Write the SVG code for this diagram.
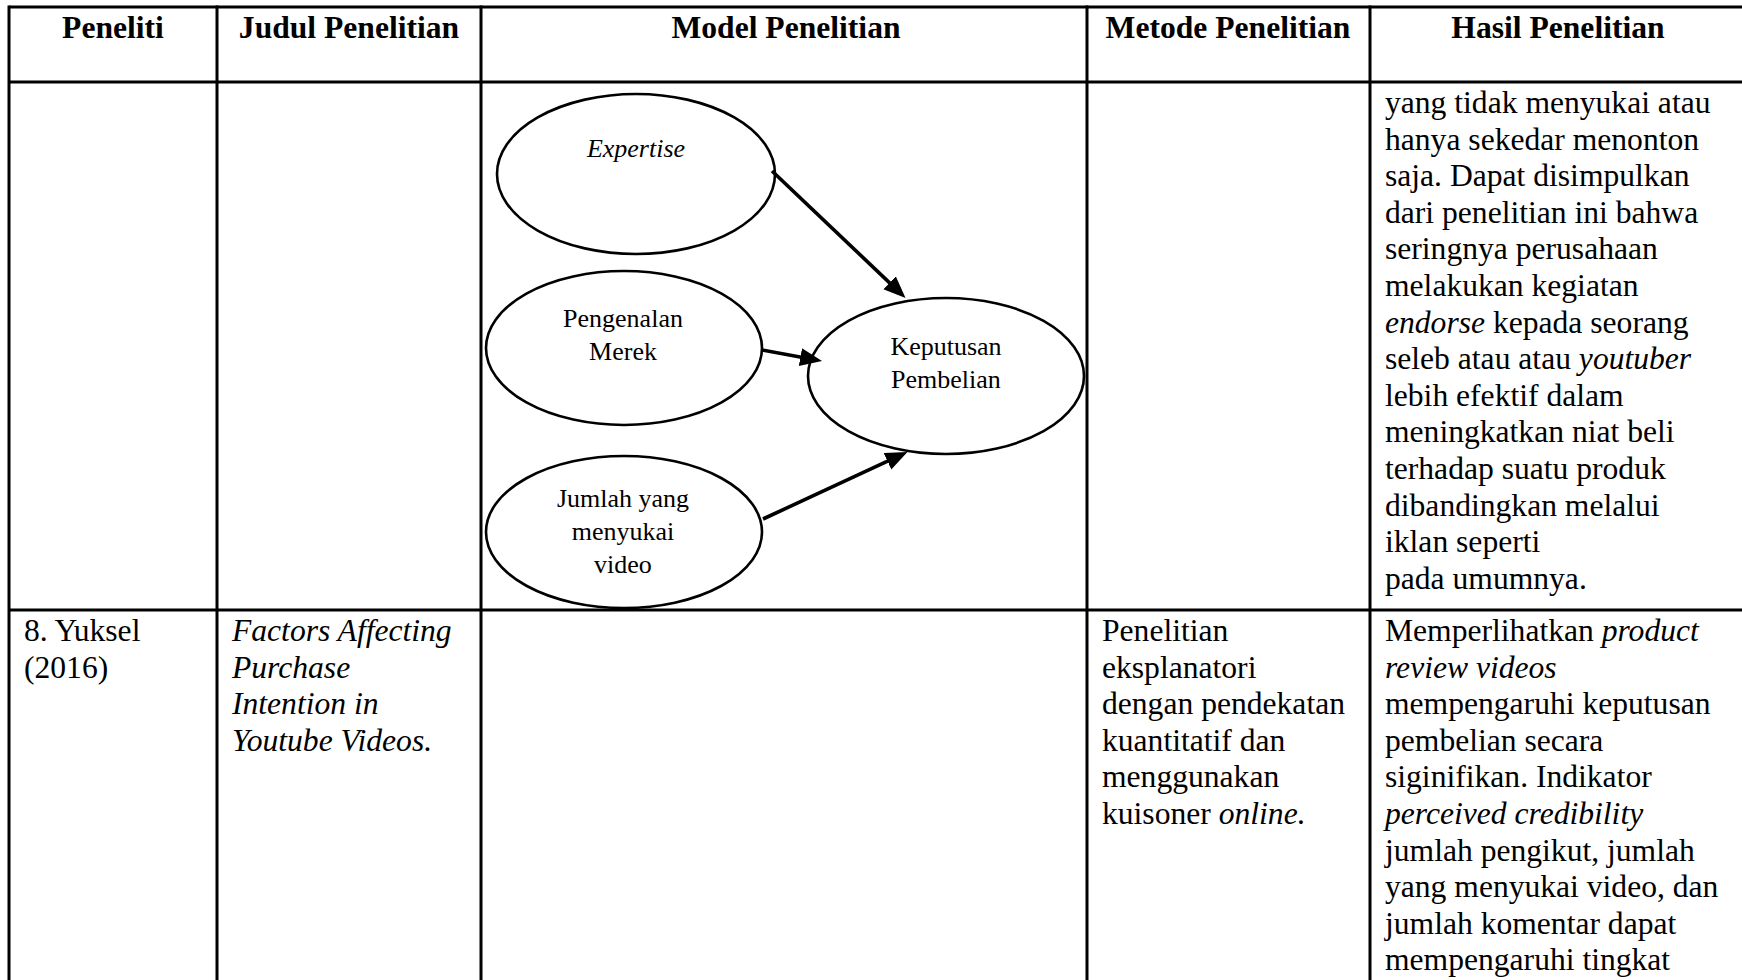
<svg xmlns="http://www.w3.org/2000/svg" width="1742" height="980" viewBox="0 0 1742 980">
  <style>
    .grid { stroke: #000; stroke-width: 3; fill: none; }
    .hdr { font-family: "Liberation Serif", "Times New Roman", serif; font-size: 31.6px; font-weight: bold; fill: #000; text-anchor: middle; }
    .body { font-family: "Liberation Serif", "Times New Roman", serif; font-size: 31.6px; fill: #000; }
    .it { font-style: italic; }
    .node ellipse { fill: #fff; stroke: #000; stroke-width: 2.6; }
    .node text { font-family: "Liberation Serif", "Times New Roman", serif; font-size: 26px; fill: #000; text-anchor: middle; }
    .edge { stroke: #000; stroke-width: 3.6; fill: none; marker-end: url(#arrow); }
  </style>
  <defs>
    <marker id="arrow" markerUnits="userSpaceOnUse" markerWidth="24" markerHeight="20" refX="12" refY="9" orient="auto">
      <path d="M0,0 L22,9 L0,18 Z" fill="#000"/>
    </marker>
  </defs>

  <rect width="1742" height="980" fill="#fff"/>

  <!-- table grid -->
  <g id="table-grid" class="grid">
    <line x1="9" y1="7" x2="1746" y2="7"/>
    <line x1="9" y1="82" x2="1746" y2="82"/>
    <line x1="9" y1="610" x2="1746" y2="610"/>
    <line x1="9" y1="5.5" x2="9" y2="980"/>
    <line x1="217" y1="5.5" x2="217" y2="980"/>
    <line x1="481" y1="5.5" x2="481" y2="980"/>
    <line x1="1087" y1="5.5" x2="1087" y2="980"/>
    <line x1="1370" y1="5.5" x2="1370" y2="980"/>
    <line x1="1746" y1="5.5" x2="1746" y2="980"/>
  </g>

  <!-- column headers -->
  <g id="headers">
    <text class="hdr" x="113" y="38">Peneliti</text>
    <text class="hdr" x="349" y="38">Judul Penelitian</text>
    <text class="hdr" x="786" y="38">Model Penelitian</text>
    <text class="hdr" x="1228" y="38">Metode Penelitian</text>
    <text class="hdr" x="1558" y="38">Hasil Penelitian</text>
  </g>

  <!-- row 1: result text continued -->
  <g id="row1-hasil" class="body">
    <text x="1385" y="113">yang tidak menyukai atau</text>
    <text x="1385" y="149.6">hanya sekedar menonton</text>
    <text x="1385" y="186.2">saja. Dapat disimpulkan</text>
    <text x="1385" y="222.8">dari penelitian ini bahwa</text>
    <text x="1385" y="259.4">seringnya perusahaan</text>
    <text x="1385" y="296">melakukan kegiatan</text>
    <text x="1385" y="332.6"><tspan class="it">endorse</tspan> kepada seorang</text>
    <text x="1385" y="369.2">seleb atau atau <tspan class="it">youtuber</tspan></text>
    <text x="1385" y="405.8">lebih efektif dalam</text>
    <text x="1385" y="442.4">meningkatkan niat beli</text>
    <text x="1385" y="479">terhadap suatu produk</text>
    <text x="1385" y="515.6">dibandingkan melalui</text>
    <text x="1385" y="552.2">iklan seperti</text>
    <text x="1385" y="588.8">pada umumnya.</text>
  </g>

  <!-- research model nodes -->
  <g id="node-expertise" class="node">
    <ellipse cx="636" cy="174" rx="139" ry="80"/>
    <text x="636" y="157" font-style="italic">Expertise</text>
  </g>
  <g id="node-pengenalan" class="node">
    <ellipse cx="624" cy="348" rx="138" ry="77"/>
    <text x="623" y="327">Pengenalan</text>
    <text x="623" y="360">Merek</text>
  </g>
  <g id="node-keputusan" class="node">
    <ellipse cx="946" cy="376" rx="138" ry="78"/>
    <text x="946" y="355">Keputusan</text>
    <text x="946" y="388">Pembelian</text>
  </g>
  <g id="node-jumlah" class="node">
    <ellipse cx="624" cy="532" rx="138" ry="76"/>
    <text x="623" y="507">Jumlah yang</text>
    <text x="623" y="540">menyukai</text>
    <text x="623" y="573">video</text>
  </g>

  <!-- connectors -->
  <g id="connectors">
    <line class="edge" x1="772" y1="171" x2="898.3" y2="291.1"/>
    <line class="edge" x1="762" y1="350" x2="812.2" y2="359.2"/>
    <line class="edge" x1="763" y1="519" x2="898.4" y2="456.2"/>
  </g>

  <!-- row 2 -->
  <g id="row2-peneliti" class="body">
    <text x="24" y="641">8. Yuksel</text>
    <text x="24" y="677.6">(2016)</text>
  </g>
  <g id="row2-judul" class="body it">
    <text x="232" y="641">Factors Affecting</text>
    <text x="232" y="677.6">Purchase</text>
    <text x="232" y="714.2">Intention in</text>
    <text x="232" y="750.8">Youtube Videos.</text>
  </g>
  <g id="row2-metode" class="body">
    <text x="1102" y="641">Penelitian</text>
    <text x="1102" y="677.6">eksplanatori</text>
    <text x="1102" y="714.2">dengan pendekatan</text>
    <text x="1102" y="750.8">kuantitatif dan</text>
    <text x="1102" y="787.4">menggunakan</text>
    <text x="1102" y="824">kuisoner <tspan class="it">online.</tspan></text>
  </g>
  <g id="row2-hasil" class="body">
    <text x="1385" y="641">Memperlihatkan <tspan class="it">product</tspan></text>
    <text x="1385" y="677.6" class="it">review videos</text>
    <text x="1385" y="714.2">mempengaruhi keputusan</text>
    <text x="1385" y="750.8">pembelian secara</text>
    <text x="1385" y="787.4">siginifikan. Indikator</text>
    <text x="1385" y="824" class="it">perceived credibility</text>
    <text x="1385" y="860.6">jumlah pengikut, jumlah</text>
    <text x="1385" y="897.2">yang menyukai video, dan</text>
    <text x="1385" y="933.8">jumlah komentar dapat</text>
    <text x="1385" y="970.4">mempengaruhi tingkat</text>
  </g>
</svg>
